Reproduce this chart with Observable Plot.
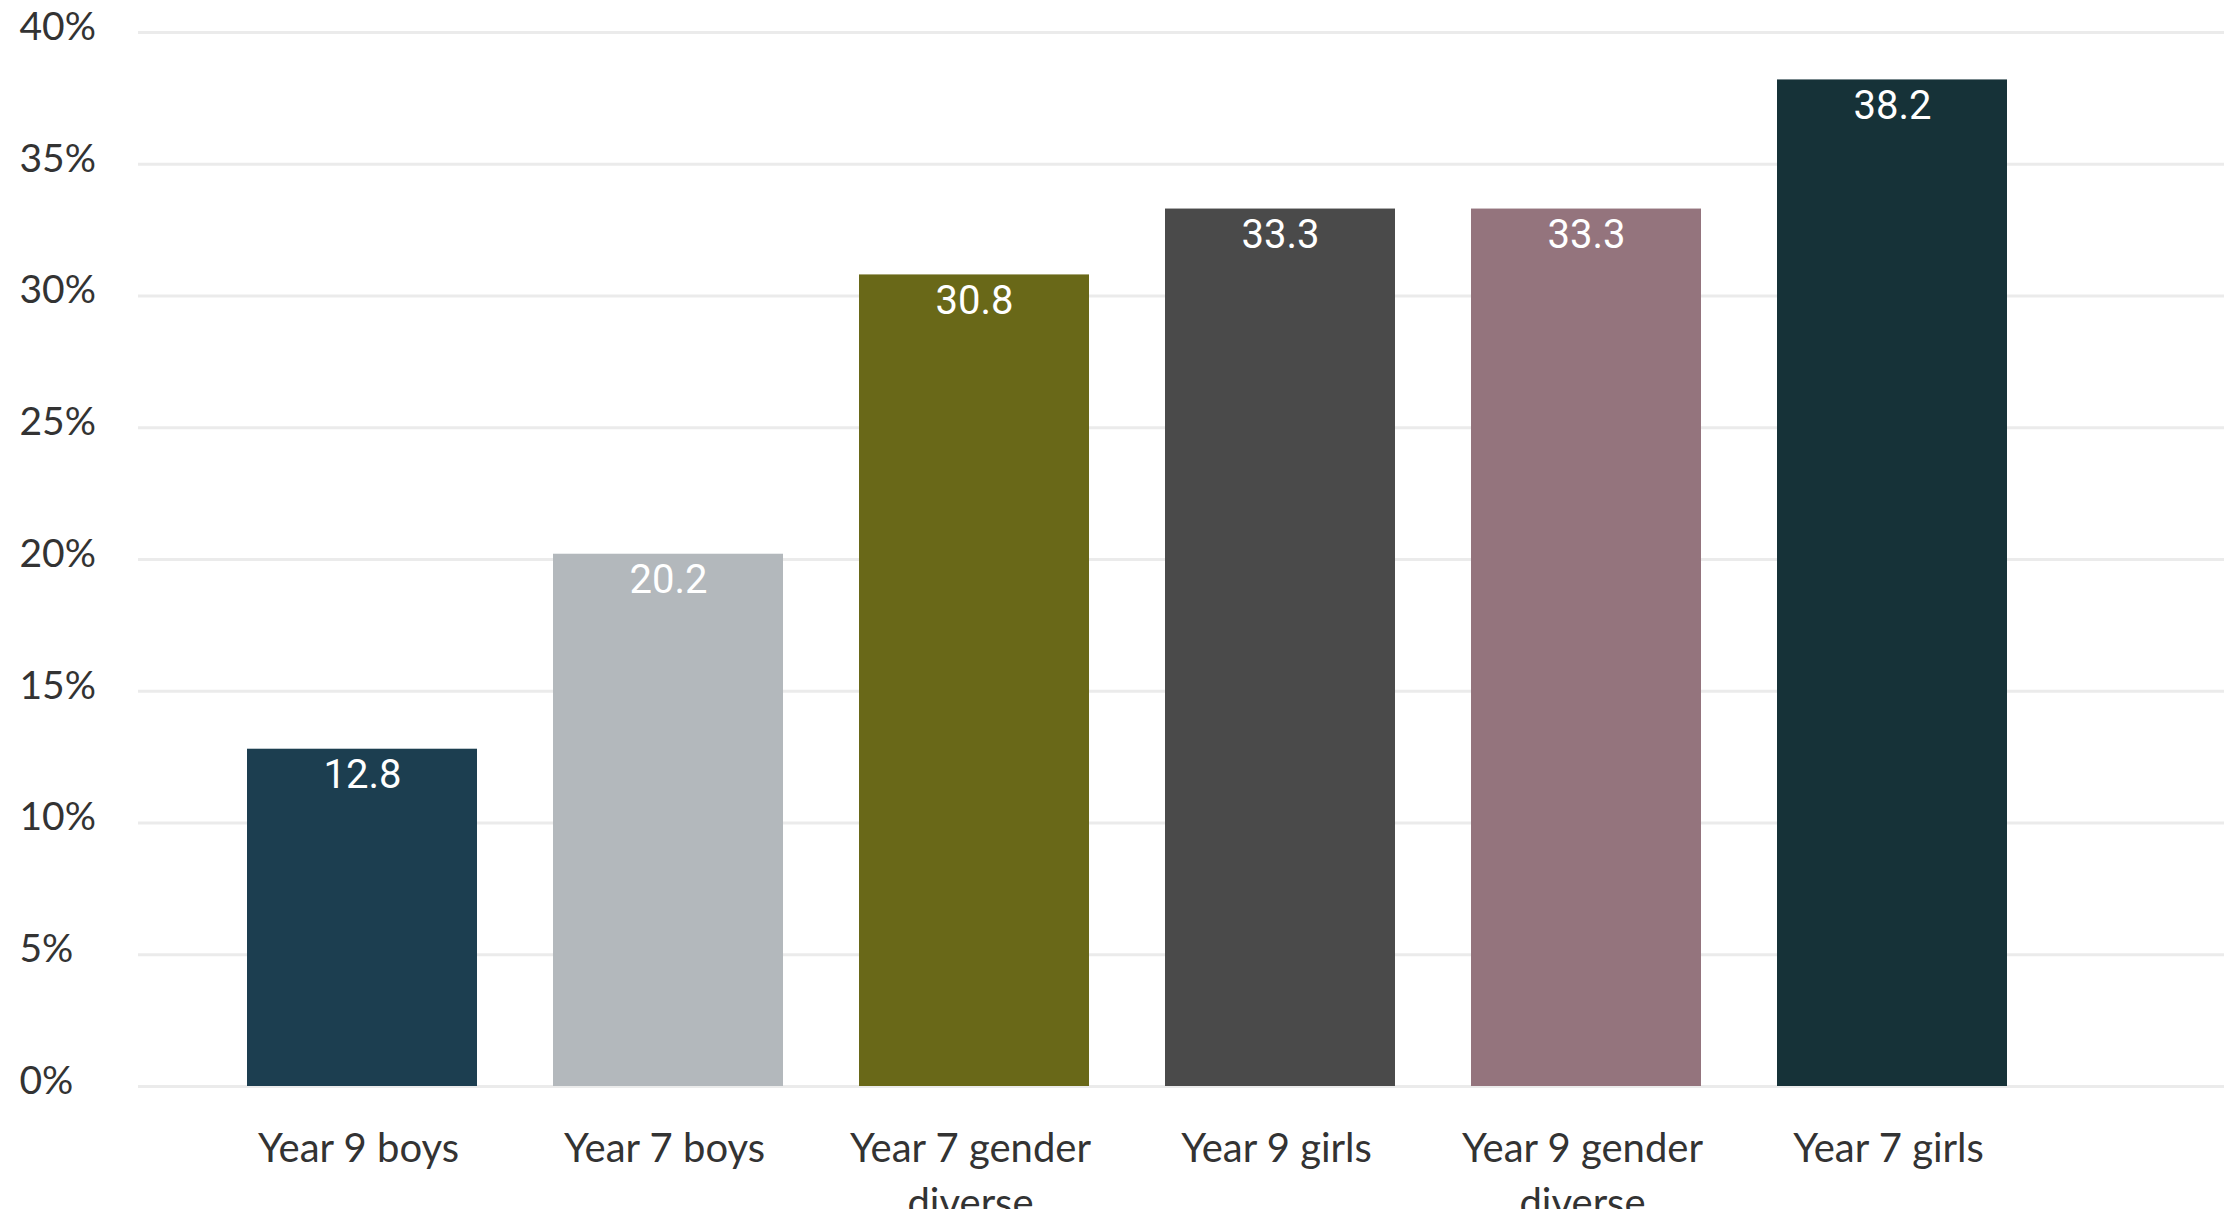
<!DOCTYPE html>
<html>
<head>
<meta charset="utf-8">
<script src="https://cdn.jsdelivr.net/npm/d3@7"></script>
<script src="https://cdn.jsdelivr.net/npm/@observablehq/plot@0.6"></script>
<style>
  html, body { margin: 0; padding: 0; background: #ffffff; }
  #chart { width: 2234px; height: 1209px; overflow: hidden; }
</style>
</head>
<body>
<div id="chart"></div>
<script>
// Share of students in each group (%)
const groups = [
  "Year 9 boys",
  "Year 7 boys",
  "Year 7 gender diverse",
  "Year 9 girls",
  "Year 9 gender diverse",
  "Year 7 girls"
];
const values = [12.8, 20.2, 30.8, 33.3, 33.3, 38.2];
const yTicks = [0, 5, 10, 15, 20, 25, 30, 35, 40];

// One fill per group, in the same order as the groups
const palette = ["#1c3e50", "#b3b8bc", "#696818", "#4a4a4a", "#94747d", "#163238"];

const rows = groups.map((group, i) => ({group, value: values[i]}));

const chart = Plot.plot({
  width: 2234,
  height: 1209,
  marginTop: 32,
  marginBottom: 123,
  marginLeft: 138,
  marginRight: 10,
  style: {fontFamily: "Lato, 'Noto Sans', sans-serif", fontSize: "40px", color: "#333333", background: "#ffffff"},
  x: {
    type: "band",
    domain: groups,
    range: [207, 2047],
    paddingInner: 0.247,
    paddingOuter: 0.1235,
    axis: null
  },
  y: {domain: [0, 40], axis: null},
  color: {domain: groups, range: palette},
  marks: [
    // horizontal gridlines across the full frame
    Plot.ruleY(yTicks, {stroke: "#ebebeb", strokeWidth: 3}),
    // bars
    Plot.barY(rows, {x: "group", y: "value", fill: "group"}),
    // value labels inside the top of each bar
    Plot.text(rows, {
      x: "group",
      y: "value",
      text: d => d.value.toFixed(1),
      dy: 26,
      lineAnchor: "middle",
      fill: "#ffffff",
      fontFamily: "Roboto, sans-serif",
      fontSize: 40
    }),
    // y tick labels, left aligned at the page edge
    Plot.text(yTicks, {
      y: d => d,
      text: d => `${d}%`,
      frameAnchor: "left",
      textAnchor: "start",
      lineAnchor: "middle",
      dx: -119,
      dy: -5,
      fill: "#333333",
      fontSize: 39
    }),
    // category labels under the bars
    Plot.axisX({
      anchor: "bottom",
      label: null,
      tickSize: 0,
      tickPadding: 36,
      dx: -4,
      fontSize: 40,
      lineHeight: 1.38,
      fill: "#333333",
      tickFormat: d => d.replace(" diverse", "\ndiverse")
    })
  ]
});

document.getElementById("chart").appendChild(chart);
</script>
</body>
</html>
